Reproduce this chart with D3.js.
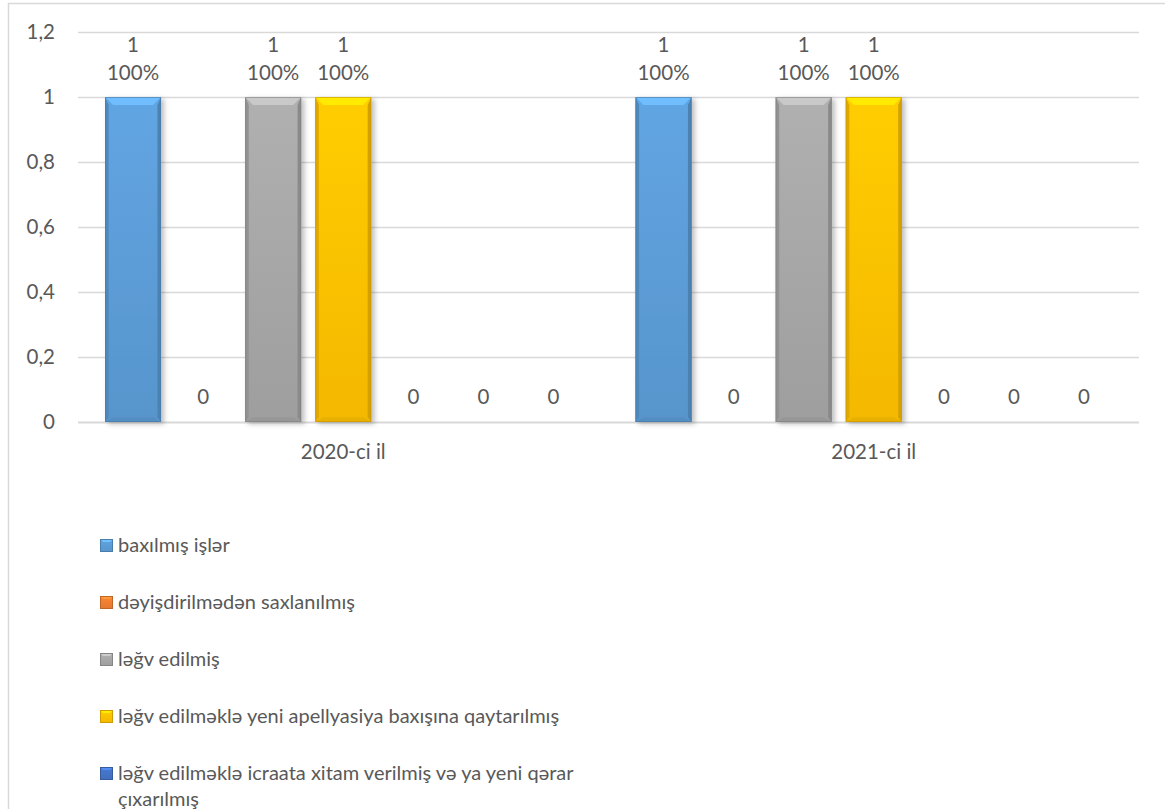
<!DOCTYPE html>
<html><head><meta charset="utf-8">
<script src="https://cdn.jsdelivr.net/npm/d3@7"></script>
<style>
html,body{margin:0;padding:0;background:#fff;}
svg{display:block;font-family:Lato,"Open Sans",sans-serif;}
</style></head>
<body>
<svg id="chart" width="1165" height="809"></svg>
<script>
const categories = ["2020-ci il", "2021-ci il"];
const seriesNames = [
  "baxılmış işlər",
  "dəyişdirilmədən saxlanılmış",
  "ləğv edilmiş",
  "ləğv edilməklə yeni apellyasiya baxışına qaytarılmış",
  "ləğv edilməklə icraata xitam verilmiş və ya yeni qərar çıxarılmış",
  "",
  ""
];
const seriesColors = ["#5b9bd5", "#ed7d31", "#a5a5a5", "#ffc000", "#4472c4", "#70ad47", "#264478"];
const values2020 = [1, 0, 1, 1, 0, 0, 0];
const values2021 = [1, 0, 1, 1, 0, 0, 0];
const percent2020 = ["100%", "", "100%", "100%", "", "", ""];
const percent2021 = ["100%", "", "100%", "100%", "", "", ""];
const yTicks = [0, 0.2, 0.4, 0.6, 0.8, 1, 1.2];

const values = [values2020, values2021];
const percents = [percent2020, percent2021];

const svg = d3.select("#chart");
const W = 1165, H = 809;
const plot = {left: 78, right: 1139, top: 32, bottom: 422};
const textColor = "#595959";
const fs = 20.5;
const lfs = 20;
const ff = "Lato,'Open Sans',sans-serif";

// chart frame
svg.append("rect").attr("x", 8.5).attr("y", 3.5).attr("width", W + 20).attr("height", H + 20)
  .attr("fill", "#fff").attr("stroke", "#d9d9d9").attr("stroke-width", 1.5);

const y = d3.scaleLinear().domain([0, 1.2]).range([plot.bottom, plot.top]);
const x0 = d3.scaleBand().domain(categories).range([plot.left, plot.right]).paddingInner(0).paddingOuter(0);
const x1 = d3.scaleBand().domain(d3.range(seriesNames.length)).range([20, x0.bandwidth() - 20]).paddingInner(0.2).paddingOuter(0.1);

const defs = svg.append("defs");
function shade(c, k) { return d3.color(c).darker(k).formatHex(); }
function tint(c, k) { return d3.color(c).brighter(k).formatHex(); }
seriesColors.forEach((c, i) => {
  const g = defs.append("linearGradient").attr("id", "g" + i).attr("x1", 0).attr("y1", 0).attr("x2", 0).attr("y2", 1);
  g.append("stop").attr("offset", "0%").attr("stop-color", tint(c, 0.18));
  g.append("stop").attr("offset", "100%").attr("stop-color", shade(c, 0.12));
});
const flt = defs.append("filter").attr("id", "shadow").attr("x", "-20%").attr("y", "-5%").attr("width", "150%").attr("height", "115%");
flt.append("feDropShadow").attr("dx", 3).attr("dy", 2).attr("stdDeviation", 2.5).attr("flood-color", "#000").attr("flood-opacity", 0.25);

// gridlines
svg.append("g").selectAll("line").data(yTicks).join("line")
  .attr("x1", plot.left).attr("x2", plot.right)
  .attr("y1", d => Math.round(y(d)) + 0.5).attr("y2", d => Math.round(y(d)) + 0.5)
  .attr("stroke", "#d9d9d9").attr("stroke-width", d => d === 0 ? 2 : 1.5);

// y axis labels
const yAxis = d3.axisLeft(y).tickValues(yTicks).tickSize(0).tickPadding(0)
  .tickFormat(d => d3.format(".1~f")(d).replace(".", ","));
const ya = svg.append("g").attr("transform", `translate(55,0)`).call(yAxis);
ya.select(".domain").remove();
ya.selectAll("text").attr("fill", textColor).style("font-size", fs + "px").style("font-family", ff);

// x axis labels
const xAxis = d3.axisBottom(x0).tickSize(0).tickPadding(0);
const xa = svg.append("g").attr("transform", `translate(0,${plot.bottom + 22})`).call(xAxis);
xa.select(".domain").remove();
xa.selectAll("text").attr("fill", textColor).style("font-size", fs + "px").style("font-family", ff);

// bars
const groups = svg.append("g").selectAll("g").data(categories).join("g")
  .attr("transform", d => `translate(${x0(d)},0)`);

groups.each(function(cat, ci) {
  const g = d3.select(this);
  values[ci].forEach((v, si) => {
    const bx = x1(si), bw = x1.bandwidth();
    const by = y(v), bh = y(0) - y(v);
    const c = seriesColors[si];
    if (bh > 0) {
      const bar = g.append("g").attr("filter", "url(#shadow)");
      bar.append("rect").attr("x", bx).attr("y", by).attr("width", bw).attr("height", bh).attr("fill", `url(#g${si})`);
      const b = 8;
      bar.append("path").attr("d", `M${bx},${by}L${bx + bw},${by}L${bx + bw - b},${by + b}L${bx + b},${by + b}Z`).attr("fill", tint(c, 0.55));
      bar.append("path").attr("d", `M${bx},${by}L${bx + b * 0.45},${by + b}L${bx + b * 0.45},${by + bh - b * 0.6}L${bx},${by + bh}Z`).attr("fill", shade(c, 0.35));
      bar.append("path").attr("d", `M${bx + bw},${by}L${bx + bw - b * 0.45},${by + b}L${bx + bw - b * 0.45},${by + bh - b * 0.6}L${bx + bw},${by + bh}Z`).attr("fill", shade(c, 0.5));
      bar.append("path").attr("d", `M${bx},${by + bh}L${bx + bw},${by + bh}L${bx + bw - b},${by + bh - b * 0.6}L${bx + b},${by + bh - b * 0.6}Z`).attr("fill", shade(c, 0.25));
      bar.append("rect").attr("x", bx + 0.5).attr("y", by + 0.5).attr("width", bw - 1).attr("height", bh - 1)
        .attr("fill", "none").attr("stroke", shade(c, 0.7)).attr("stroke-width", 1).attr("stroke-opacity", 0.6);
    }
    const cx = bx + bw / 2;
    const p = percents[ci][si];
    if (p) {
      g.append("text").attr("x", cx).attr("y", by - 17).attr("text-anchor", "middle")
        .attr("fill", textColor).style("font-size", fs + "px").text(p);
      g.append("text").attr("x", cx).attr("y", by - 45).attr("text-anchor", "middle")
        .attr("fill", textColor).style("font-size", fs + "px").text(d3.format("~g")(v));
    } else {
      g.append("text").attr("x", cx).attr("y", by - 18).attr("text-anchor", "middle")
        .attr("fill", textColor).style("font-size", fs + "px").text(d3.format("~g")(v));
    }
  });
});

// legend
const legend = svg.append("g");
let ly = 552;
const wrapW = 490;
seriesNames.forEach((name, si) => {
  if (!name) return;
  const c = seriesColors[si];
  const item = legend.append("g");
  const mx = 100, my = ly - 13, ms = 13;
  item.append("rect").attr("x", mx).attr("y", my).attr("width", ms).attr("height", ms).attr("fill", `url(#g${si})`);
  item.append("path").attr("d", `M${mx},${my}L${mx + ms},${my}L${mx + ms - 3},${my + 3}L${mx + 3},${my + 3}Z`).attr("fill", tint(c, 0.6));
  item.append("rect").attr("x", mx + 0.5).attr("y", my + 0.5).attr("width", ms - 1).attr("height", ms - 1).attr("fill", "none").attr("stroke", shade(c, 0.6)).attr("stroke-width", 1);
  const t = item.append("text").attr("x", 118).attr("y", ly).attr("fill", textColor).style("font-size", lfs + "px");
  const words = name.split(" ");
  let line = [], tspan = t.append("tspan").attr("x", 118).attr("y", ly);
  let lines = 1;
  words.forEach(w => {
    line.push(w);
    tspan.text(line.join(" "));
    if (tspan.node().getComputedTextLength() > wrapW && line.length > 1) {
      line.pop();
      tspan.text(line.join(" "));
      line = [w];
      tspan = t.append("tspan").attr("x", 118).attr("y", ly + 26 * lines).text(w);
      lines++;
    }
  });
  ly += 57 + 26 * (lines - 1);
});
</script>
</body></html>
